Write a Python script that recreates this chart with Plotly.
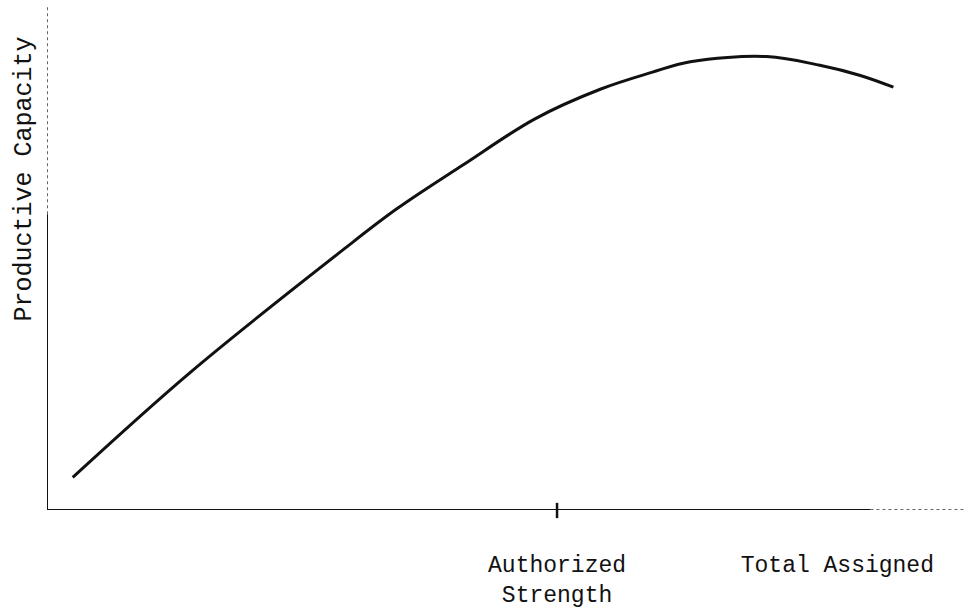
import plotly.graph_objects as go

# Staffing level (arbitrary units) vs. productive capacity (arbitrary units)
staffing = [2.8, 15.6, 32.2, 38.1, 45.3, 53.1, 60.2, 65.8, 70.0, 78.3, 84.1, 88.5, 92.1]
capacity = [6.4, 27.0, 51.0, 59.1, 67.7, 76.7, 82.5, 85.8, 87.9, 88.9, 87.2, 85.2, 82.9]

# Reference staffing levels marked on the horizontal axis
marker_positions = [55.5, 86.0]
marker_labels = ["Authorized<br>Strength", "Total Assigned"]

FONT = "Liberation Mono, Courier New, monospace"

fig = go.Figure()
fig.add_trace(go.Scatter(
    x=staffing, y=capacity, mode="lines",
    line=dict(color="#111111", width=3, shape="spline", smoothing=1.0),
    hoverinfo="skip", showlegend=False,
))

fig.update_layout(
    width=966, height=609,
    margin=dict(l=47, r=0, t=0, b=95),
    paper_bgcolor="white", plot_bgcolor="white",
    xaxis=dict(range=[0, 100], showgrid=False, zeroline=False, showline=False,
               tickvals=marker_positions, ticktext=marker_labels, ticks="",
               ticklabelstandoff=38,
               tickfont=dict(family=FONT, size=23, color="#111111")),
    yaxis=dict(range=[0, 100], showgrid=False, zeroline=False, showline=False,
               showticklabels=False, ticks=""),
    shapes=[
        # vertical axis: solid lower part, faint dotted upper part
        dict(type="line", xref="x", yref="y", x0=0, x1=0, y0=0, y1=58,
             line=dict(color="#111111", width=2)),
        dict(type="line", xref="x", yref="y", x0=0, x1=0, y0=58, y1=99,
             line=dict(color="#333333", width=1.5, dash="dot")),
        # horizontal axis: solid then dotted towards the right
        dict(type="line", xref="x", yref="y", x0=0, x1=89.6, y0=0, y1=0,
             line=dict(color="#111111", width=2)),
        dict(type="line", xref="x", yref="y", x0=89.6, x1=100, y0=0, y1=0,
             line=dict(color="#333333", width=1.5, dash="dot")),
        # tick at the authorized strength level, crossing the axis
        dict(type="line", xref="x", yref="paper", x0=marker_positions[0], x1=marker_positions[0],
             y0=-0.016, y1=0.014, line=dict(color="#111111", width=2.5)),
    ],
    annotations=[
        dict(text="Productive Capacity", xref="paper", yref="paper",
             x=0, y=0.648, xshift=-22, textangle=-90, showarrow=False,
             xanchor="center", yanchor="middle",
             font=dict(family=FONT, size=25, color="#111111")),
    ],
)

fig.write_html("out.html")
